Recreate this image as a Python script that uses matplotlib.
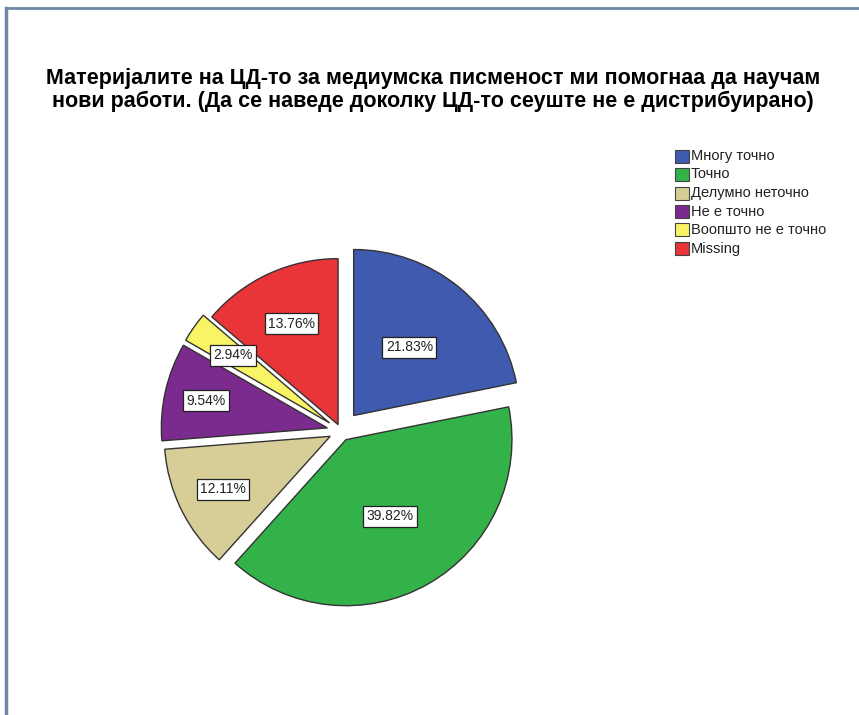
import matplotlib
matplotlib.use("Agg")
import matplotlib.pyplot as plt
import numpy as np
from matplotlib.patches import Rectangle

title = ("Материјалите на ЦД-то за медиумска писменост ми помогнаа да научам\n"
         "нови работи. (Да се наведе доколку ЦД-то сеуште не е дистрибуирано)")
categories = ["Многу точно", "Точно", "Делумно неточно", "Не е точно",
              "Воопшто не е точно", "Missing"]
percents = [21.83, 39.82, 12.11, 9.54, 2.94, 13.76]

colors = ["#3F5AAF", "#33B24A", "#D6CE96", "#7B2A8E", "#F8F466", "#E93538"]
explode_px = [20, 10, 12, 14, 14, 7]
label_dist = [0.53, 0.53, 0.72, 0.75, 0.71, 0.67]

W, H = 859, 715
fig = plt.figure(figsize=(W / 100, H / 100), dpi=100)
fig.patch.set_facecolor("white")

# frame lines (top and left)
fig.add_artist(plt.Line2D([6 / W, 6 / W], [0, 1 - 8 / H], color="#6F86A6", lw=2.5))
fig.add_artist(plt.Line2D([6 / W, 1], [1 - 8 / H, 1 - 8 / H], color="#6F86A6", lw=2.0))

ax = fig.add_axes([0, 0, 1, 1])
R = 166
cx, cy = 341, H - 431
wedges, _ = ax.pie(percents, colors=colors, startangle=90, counterclock=False,
                   radius=R, center=(cx, cy), explode=explode_px,
                   wedgeprops=dict(edgecolor="#333333", linewidth=1.0))
ax.set_xlim(0, W)
ax.set_ylim(0, H)
ax.set_aspect("auto")
ax.axis("off")

for w, p, d in zip(wedges, percents, label_dist):
    th = np.deg2rad((w.theta1 + w.theta2) / 2)
    x0, y0 = w.center
    ax.text(x0 + d * R * np.cos(th), y0 + d * R * np.sin(th), f"{p:.2f}%",
            ha="center", va="center", fontsize=10, family="Liberation Sans",
            color="#222222",
            bbox=dict(boxstyle="square,pad=0.25", fc="white", ec="#222222", lw=0.9))

fig.text(433 / W, 1 - 90 / H, title, ha="center", va="center",
         fontsize=15.5, fontweight="bold", family="Liberation Sans",
         linespacing=1.1)

# legend
lx, ly0, step = 675, 156, 18.5
for i, (c, lab) in enumerate(zip(colors, categories)):
    yc = ly0 + i * step
    fig.add_artist(Rectangle((lx / W, 1 - (yc + 6.5) / H), 14 / W, 13 / H,
                             transform=fig.transFigure, fc=c, ec="#444444", lw=0.8))
    fig.text((lx + 16) / W, 1 - yc / H, lab, ha="left", va="center",
             fontsize=10.5, family="Liberation Sans", color="#222222")

fig.savefig("out.png", dpi=100, facecolor="white")
